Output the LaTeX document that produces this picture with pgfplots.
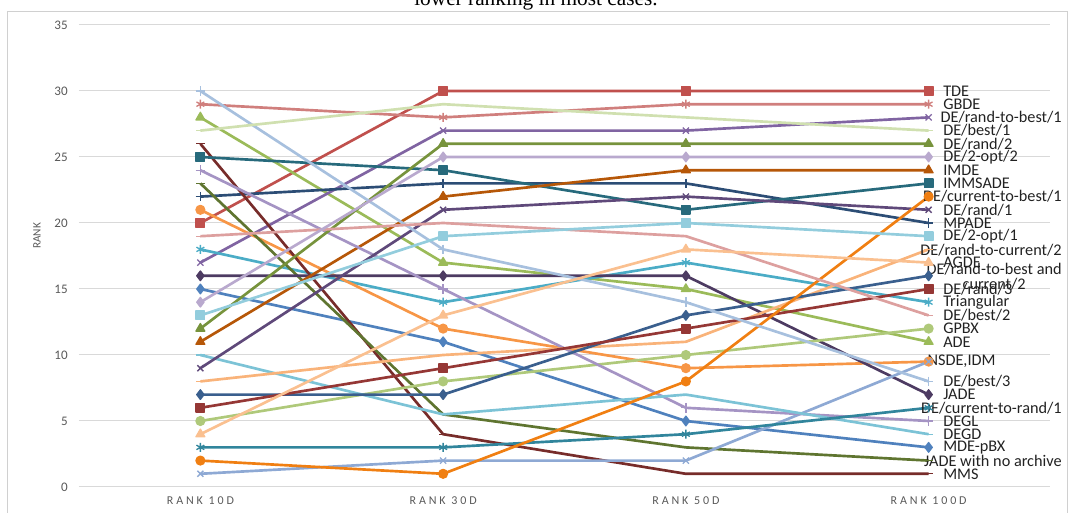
\documentclass[border=0pt]{standalone}
\usepackage{fontspec}
\setmainfont{Carlito}
\newfontfamily\capfont{Liberation Serif}
\usepackage{pgfplots}
\pgfplotsset{compat=1.18}
\definecolor{gridgray}{HTML}{D9D9D9}
\definecolor{bordergray}{HTML}{D0D0D0}
\definecolor{ticktext}{HTML}{595959}
\definecolor{lbltext}{HTML}{222222}
\definecolor{cA}{HTML}{4F81BD}
\definecolor{cB}{HTML}{C0504D}
\definecolor{cC}{HTML}{9BBB59}
\definecolor{cD}{HTML}{8064A2}
\definecolor{cE}{HTML}{4BACC6}
\definecolor{cF}{HTML}{F79646}
\definecolor{cG}{HTML}{2C4D75}
\definecolor{cH}{HTML}{772C2A}
\definecolor{cI}{HTML}{5F7530}
\definecolor{cJ}{HTML}{4D3B62}
\definecolor{cK}{HTML}{276A7C}
\definecolor{cL}{HTML}{B65708}
\definecolor{cM}{HTML}{8EA9D4}
\definecolor{cN}{HTML}{D07F7D}
\definecolor{cO}{HTML}{AFC97A}
\definecolor{cP}{HTML}{A594C4}
\definecolor{cQ}{HTML}{7CC3D6}
\definecolor{cR}{HTML}{F9B37A}
\definecolor{cS}{HTML}{3A5F8E}
\definecolor{cT}{HTML}{953735}
\definecolor{cU}{HTML}{77933C}
\definecolor{cV}{HTML}{5F497A}
\definecolor{cW}{HTML}{31859C}
\definecolor{cX}{HTML}{F07F12}
\definecolor{cY}{HTML}{A7C0DE}
\definecolor{cZ}{HTML}{DDA09F}
\definecolor{cAA}{HTML}{D0E0B0}
\definecolor{cAB}{HTML}{B9A9CE}
\definecolor{cAC}{HTML}{93CDDD}
\definecolor{cAD}{HTML}{FAC090}
\newcommand{\lblfont}{\fontsize{12.2}{11.25}\selectfont}
\begin{document}
\begin{tikzpicture}
\useasboundingbox (0pt,0pt) rectangle (807pt,384.75pt);
\draw[color=bordergray, line width=0.75pt] (5.25pt,-10pt) rectangle (800.25pt,375.75pt);
\node[anchor=base, font=\capfont\fontsize{16}{19}\selectfont] at (402pt,380.25pt) {lower ranking in most cases.};
\node[rotate=90, font=\fontsize{8.5}{10}\selectfont, color=ticktext] at (27.75pt,207.75pt) {RANK};
\begin{axis}[
  at={(59.25pt,19.5pt)}, anchor=south west,
  scale only axis, width=728.25pt, height=346.5pt,
  xmin=-0.5, xmax=3.5, ymin=0, ymax=35,
  enlargelimits=false, clip=false,
  axis line style={draw=none},
  major tick length=0pt,
  xtick={0,1,2,3},
  xticklabels={RANK 10D, RANK 30D, RANK 50D, RANK 100D},
  ytick={0,5,...,35},
  ymajorgrids, grid style={draw=gridgray, line width=0.75pt},
  /pgf/number format/assume math mode=true,
  yticklabel style={font=\fontsize{9.8}{11}\selectfont, color=ticktext, anchor=east, inner sep=0pt, xshift=-8.25pt},
  xticklabel style={font=\fontsize{9}{10}\selectfont\addfontfeature{LetterSpace=24}, color=ticktext, anchor=north, inner sep=0pt, yshift=-6.75pt},
  every axis plot/.append style={line width=2pt, line join=round, mark options={solid, line width=1pt}},
]
% 1 MDE-pBX
\addplot[cA, mark=diamond*, mark size=3.6pt] coordinates {(0,15)(1,11)(2,5)(3,3)};
% 2 TDE
\addplot[cB, mark=square*, mark size=3.2pt] coordinates {(0,20)(1,30)(2,30)(3,30)};
% 3 ADE
\addplot[cC, mark=triangle*, mark size=3.8pt] coordinates {(0,28)(1,17)(2,15)(3,11)};
% 4 DE/rand-to-best/1
\addplot[cD, mark=x, mark size=3.2pt] coordinates {(0,17)(1,27)(2,27)(3,28)};
% 5 Triangular
\addplot[cE, mark=asterisk, mark size=3.4pt] coordinates {(0,18)(1,14)(2,17)(3,14)};
% 6 NSDE
\addplot[cF, mark=*, mark size=3.3pt] coordinates {(0,21)(1,12)(2,9)(3,9.5)};
% 7 MPADE
\addplot[cG, mark=+, mark size=3.6pt] coordinates {(0,22)(1,23)(2,23)(3,20)};
% 8 MMS
\addplot[cH, mark=-, mark size=3.2pt] coordinates {(0,26)(1,4)(2,1)(3,1)};
% 9 JADE with no archive
\addplot[cI, mark=-, mark size=3.2pt] coordinates {(0,23)(1,5.5)(2,3)(3,2)};
% 10 JADE
\addplot[cJ, mark=diamond*, mark size=3.6pt] coordinates {(0,16)(1,16)(2,16)(3,7)};
% 11 IMMSADE
\addplot[cK, mark=square*, mark size=3.2pt] coordinates {(0,25)(1,24)(2,21)(3,23)};
% 12 IMDE
\addplot[cL, mark=triangle*, mark size=3.8pt] coordinates {(0,11)(1,22)(2,24)(3,24)};
% 13 IDM
\addplot[cM, mark=x, mark size=3.2pt] coordinates {(0,1)(1,2)(2,2)(3,9.5)};
% 14 GBDE
\addplot[cN, mark=asterisk, mark size=3.4pt] coordinates {(0,29)(1,28)(2,29)(3,29)};
% 15 GPBX
\addplot[cO, mark=*, mark size=3.3pt] coordinates {(0,5)(1,8)(2,10)(3,12)};
% 16 DEGL
\addplot[cP, mark=+, mark size=3.6pt] coordinates {(0,24)(1,15)(2,6)(3,5)};
% 17 DEGD
\addplot[cQ, mark=-, mark size=3.2pt] coordinates {(0,10)(1,5.5)(2,7)(3,4)};
% 18 AGDE
\addplot[cR, mark=-, mark size=3.2pt] coordinates {(0,8)(1,10)(2,11)(3,18)};
% 19 DE/rand-to-best and current/2
\addplot[cS, mark=diamond*, mark size=3.6pt] coordinates {(0,7)(1,7)(2,13)(3,16)};
% 20 DE/rand/3
\addplot[cT, mark=square*, mark size=3.2pt] coordinates {(0,6)(1,9)(2,12)(3,15)};
% 21 DE/rand/2
\addplot[cU, mark=triangle*, mark size=3.8pt] coordinates {(0,12)(1,26)(2,26)(3,26)};
% 22 DE/rand/1
\addplot[cV, mark=x, mark size=3.2pt] coordinates {(0,9)(1,21)(2,22)(3,21)};
% 23 DE/current-to-rand/1
\addplot[cW, mark=asterisk, mark size=3.4pt] coordinates {(0,3)(1,3)(2,4)(3,6)};
% 24 DE/current-to-best/1
\addplot[cX, mark=*, mark size=3.3pt] coordinates {(0,2)(1,1)(2,8)(3,22)};
% 25 DE/best/3
\addplot[cY, mark=+, mark size=3.6pt] coordinates {(0,30)(1,18)(2,14)(3,8)};
% 26 DE/best/2
\addplot[cZ, mark=-, mark size=3.2pt] coordinates {(0,19)(1,20)(2,19)(3,13)};
% 27 DE/best/1
\addplot[cAA, mark=-, mark size=3.2pt] coordinates {(0,27)(1,29)(2,28)(3,27)};
% 28 DE/2-opt/2
\addplot[cAB, mark=diamond*, mark size=3.6pt] coordinates {(0,14)(1,25)(2,25)(3,25)};
% 29 DE/2-opt/1
\addplot[cAC, mark=square*, mark size=3.2pt] coordinates {(0,13)(1,19)(2,20)(3,19)};
% 30 DE/rand-to-current/2
\addplot[cAD, mark=triangle*, mark size=3.8pt] coordinates {(0,4)(1,13)(2,18)(3,17)};

% data labels
\begin{scope}[every node/.style={font=\lblfont, text=lbltext, inner sep=0pt}]
\node[anchor=west, xshift=10.8pt] at (axis cs:3,30) {TDE};
\node[anchor=west, xshift=10.8pt] at (axis cs:3,29) {GBDE};
\node[anchor=east, xshift=100pt] at (axis cs:3,28) {DE/rand-to-best/1};
\node[anchor=west, xshift=10.8pt] at (axis cs:3,27) {DE/best/1};
\node[anchor=west, xshift=10.8pt] at (axis cs:3,26) {DE/rand/2};
\node[anchor=west, xshift=10.8pt] at (axis cs:3,25) {DE/2-opt/2};
\node[anchor=west, xshift=10.8pt] at (axis cs:3,24) {IMDE};
\node[anchor=west, xshift=10.8pt] at (axis cs:3,23) {IMMSADE};
\node[anchor=east, xshift=100pt] at (axis cs:3,22) {DE/current-to-best/1};
\node[anchor=west, xshift=10.8pt] at (axis cs:3,21) {DE/rand/1};
\node[anchor=west, xshift=10.8pt] at (axis cs:3,20) {MPADE};
\node[anchor=west, xshift=10.8pt] at (axis cs:3,19) {DE/2-opt/1};
\node[anchor=east, xshift=100pt] at (axis cs:3,17.95) {DE/rand-to-current/2};
\node[anchor=west, xshift=10.8pt] at (axis cs:3,17) {AGDE};
\node[anchor=east, xshift=100pt, align=center] at (axis cs:3,15.95) {DE/rand-to-best and\\current/2};
\node[anchor=west, xshift=10.8pt] at (axis cs:3,15) {DE/rand/3};
\node[anchor=west, xshift=10.8pt] at (axis cs:3,14) {Triangular};
\node[anchor=west, xshift=10.8pt] at (axis cs:3,13) {DE/best/2};
\node[anchor=west, xshift=10.8pt] at (axis cs:3,12) {GPBX};
\node[anchor=west, xshift=10.8pt] at (axis cs:3,11) {ADE};
\node[anchor=west, xshift=-1pt] at (axis cs:3,9.5) {NSDE,IDM};
\node[anchor=west, xshift=10.8pt] at (axis cs:3,8) {DE/best/3};
\node[anchor=west, xshift=10.8pt] at (axis cs:3,7) {JADE};
\node[anchor=east, xshift=100pt] at (axis cs:3,6) {DE/current-to-rand/1};
\node[anchor=west, xshift=10.8pt] at (axis cs:3,5) {DEGL};
\node[anchor=west, xshift=10.8pt] at (axis cs:3,4) {DEGD};
\node[anchor=west, xshift=10.8pt] at (axis cs:3,3) {MDE-pBX};
\node[anchor=east, xshift=100pt] at (axis cs:3,2) {JADE with no archive};
\node[anchor=west, xshift=10.8pt] at (axis cs:3,1) {MMS};
\end{scope}
\end{axis}
\end{tikzpicture}
\end{document}
